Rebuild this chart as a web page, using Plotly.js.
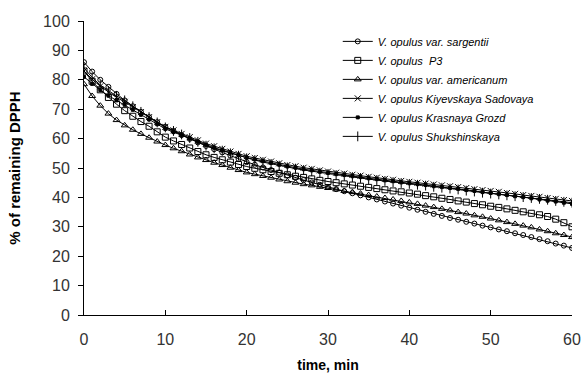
<!DOCTYPE html>
<html>
<head>
<meta charset="utf-8">
<script src="https://cdn.plot.ly/plotly-3.0.1.min.js"></script>
<style>html,body{margin:0;padding:0;background:#fff;}#chart{width:582px;height:373px;}</style>
</head>
<body>
<div id="chart"></div>
<script>
var time = [0,1,2,3,4,5,6,7,8,9,10,11,12,13,14,15,16,17,18,19,20,21,22,23,24,25,26,27,28,29,30,31,32,33,34,35,36,37,38,39,40,41,42,43,44,45,46,47,48,49,50,51,52,53,54,55,56,57,58,59,60];

var sargentii = [86,82.8,80,77.6,75.2,73,71,69.1,67.3,65.6,64,62.6,61.2,59.9,58.7,57.5,56.4,55.3,54.2,53.1,52,51.1,50.2,49.3,48.4,47.5,46.7,45.9,45.1,44.3,43.5,42.8,42.1,41.4,40.7,40,39.3,38.6,37.9,37.2,36.5,35.8,35.1,34.4,33.7,33,32.4,31.7,31.1,30.4,29.8,29.1,28.5,27.8,27.2,26.5,25.8,25.1,24.3,23.6,22.8];

var p3 = [83,79.5,76.6,74,71.7,69.5,67.6,65.8,64.2,62.3,60.5,59.2,58,56.8,55.6,54.5,53.6,52.8,52,51.2,50.5,49.9,49.4,48.8,48.2,47.7,47.2,46.8,46.3,45.8,45.4,45,44.6,44.2,43.8,43.4,43,42.6,42.2,41.9,41.5,41.1,40.6,40.2,39.7,39.3,38.8,38.4,37.9,37.5,37,36.6,36.1,35.6,35.1,34.6,34.1,33.5,32.6,31.4,30];

var americanum = [78.5,74.5,71.2,68.5,66.3,64.5,63,61.6,60.3,59,57.8,56.7,55.7,54.6,53.6,52.7,51.8,51,50.1,49.3,48.5,47.9,47.3,46.7,46.1,45.5,45,44.5,44.1,43.6,43.2,42.7,42.2,41.8,41.3,40.8,40.3,39.8,39.3,38.8,38.3,37.8,37.2,36.7,36.1,35.6,35,34.5,33.9,33.4,32.8,32.2,31.6,31,30.4,29.8,29.1,28.5,27.8,27.2,26.5];

var kiyevskaya = [83,80.2,77.8,75.8,74,72.5,70.7,69,67.3,65.6,64,62.8,61.6,60.5,59.4,58.3,57.4,56.5,55.6,54.8,54,53.4,52.8,52.2,51.6,51,50.6,50.1,49.7,49.2,48.8,48.4,48.1,47.7,47.4,47,46.7,46.3,46,45.6,45.3,45,44.7,44.4,44.1,43.8,43.5,43.2,42.8,42.5,42.2,41.9,41.5,41.2,40.8,40.5,40.2,39.8,39.5,39.1,38.8];

var krasnaya = [81,78.6,76.5,74.6,73,71.5,69.8,68.1,66.5,64.9,63.3,62.2,61.1,60,58.9,57.8,56.9,56.1,55.2,54.4,53.5,52.9,52.3,51.7,51.1,50.5,50.1,49.6,49.2,48.7,48.3,47.9,47.6,47.2,46.9,46.5,46.2,45.8,45.5,45.1,44.8,44.5,44.2,43.8,43.5,43.2,42.9,42.5,42.2,41.8,41.5,41.1,40.8,40.4,40.1,39.7,39.3,38.9,38.6,38.2,37.8];

var shukshinskaya = [84,80.8,78.2,76.2,74.5,73,71,69.1,67.3,65.5,63.8,62.6,61.4,60.2,58.9,57.6,56.7,55.9,55,54.2,53.3,52.7,52,51.4,50.8,50.2,49.8,49.3,48.9,48.4,48,47.6,47.3,46.9,46.6,46.2,45.9,45.6,45.2,44.9,44.6,44.3,44,43.6,43.3,43,42.7,42.3,42,41.6,41.3,41,40.7,40.4,40.1,39.8,39.5,39.2,38.8,38.5,38.2];

var names = ["V. opulus var. sargentii","V. opulus  P3","V. opulus var. americanum","V. opulus Kiyevskaya Sadovaya","V. opulus Krasnaya Grozd","V. opulus Shukshinskaya"];
var series = [sargentii, p3, americanum, kiyevskaya, krasnaya, shukshinskaya];
var symbols = ["circle-open","square-open","triangle-up-open","x-thin-open","square","line-ns-open"];
var sizes = [5,6,6,6,3,7];

var traces = series.map(function(s,i){
  return {
    x: time, y: s, name: names[i], type: "scatter", mode: "lines+markers",
    line: {color: "#000", width: 1},
    marker: {symbol: symbols[i], size: sizes[i], color: "#000", line: {color: "#000", width: 1}}
  };
});

var FONT = "Liberation Sans, Arial, sans-serif";
var layout = {
  width: 582, height: 373,
  margin: {l: 84, r: 10, t: 21, b: 58},
  paper_bgcolor: "#fff", plot_bgcolor: "#fff",
  showlegend: true,
  legend: {x: 0.52, y: 0.98, xanchor: "left", yanchor: "top", bgcolor: "rgba(0,0,0,0)",
    font: {family: FONT, size: 11, color: "#000", style: "italic"},
    tracegroupgap: 0},
  xaxis: {
    range: [0, 60], dtick: 10, tick0: 0, showgrid: false, zeroline: false,
    showline: true, linecolor: "#000", linewidth: 1,
    ticks: "inside", ticklen: 5, tickcolor: "#000",
    ticklabelstandoff: 10,
    tickfont: {family: FONT, size: 16, color: "#333"},
    title: {text: "<b>time, min</b>", font: {family: FONT, size: 14, color: "#000"}, standoff: 14}
  },
  yaxis: {
    range: [0, 100], dtick: 10, tick0: 0, showgrid: false, zeroline: false,
    showline: true, linecolor: "#000", linewidth: 1,
    ticks: "outside", ticklen: 5, tickcolor: "#000",
    ticklabelstandoff: 5,
    tickfont: {family: FONT, size: 16, color: "#333"},
    title: {text: "<b>% of remaining DPPH</b>", font: {family: FONT, size: 15, color: "#000"}, standoff: 18}
  }
};

Plotly.newPlot("chart", traces, layout, {displayModeBar: false, staticPlot: true});
</script>
</body>
</html>
